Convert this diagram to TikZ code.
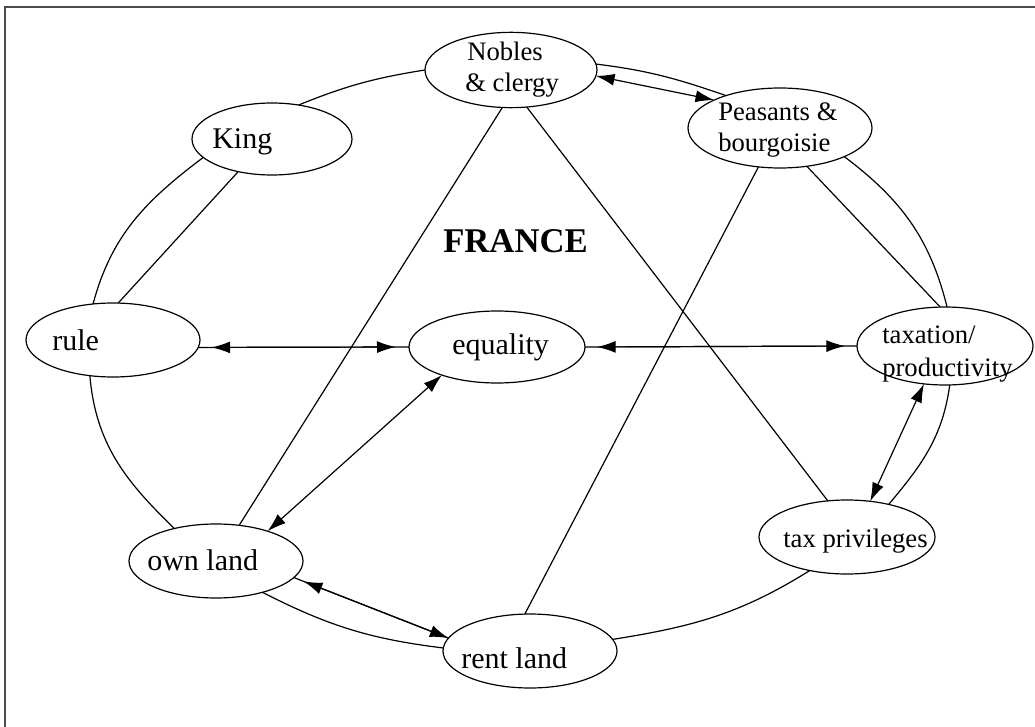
\documentclass[tikz,border=0pt]{standalone}
\usepackage{fontspec}
\setmainfont{Liberation Serif}
\usetikzlibrary{shapes.geometric,arrows.meta}

\tikzset{
  ell/.style={draw, ellipse, inner sep=0pt, outer sep=0pt, line width=0.9pt},
  big/.style={anchor=base west, inner sep=0pt, font=\fontsize{22.5}{27}\selectfont},
  small/.style={anchor=base west, inner sep=0pt, font=\fontsize{20}{24}\selectfont},
  title/.style={anchor=base west, inner sep=0pt, font=\fontsize{26}{30}\selectfont\bfseries},
  link/.style={line width=0.9pt},
  tip/.style={line width=0.9pt, {Latex[length=14pt,width=9pt]}-{Latex[length=14pt,width=9pt]}},
  gaptip/.style={line width=0.9pt, postaction={draw, tip, shorten <=#1, shorten >=#1}},
  frame/.style={line width=2pt, black!70},
}

\begin{document}
\begin{tikzpicture}[x=0.75pt, y=-0.75pt]
  \useasboundingbox (0,0) rectangle (1035,727);

  % frame edges
  \coordinate (fl) at (5,727);
  \coordinate (fc) at (5,7);
  \coordinate (fr) at (1035,7);
  \draw[frame] (fl) -- (fc) -- (fr);

  % ellipses
  \node[ell, minimum width=120pt,   minimum height=54pt]   (king) at (272,139) {};
  \node[ell, minimum width=129pt,   minimum height=56.5pt] (nob)  at (511,70)  {};
  \node[ell, minimum width=138pt,   minimum height=60pt]   (pea)  at (780,128) {};
  \node[ell, minimum width=130.5pt, minimum height=55.5pt] (rule) at (113,340) {};
  \node[ell, minimum width=132pt,   minimum height=54pt]   (eq)   at (497,347) {};
  \node[ell, minimum width=132pt,   minimum height=58.5pt] (tax)  at (945,346) {};
  \node[ell, minimum width=132pt,   minimum height=55.5pt] (priv) at (847,537) {};
  \node[ell, minimum width=130.5pt, minimum height=55.5pt] (own)  at (216,561) {};
  \node[ell, minimum width=130.5pt, minimum height=55.5pt] (rent) at (530,651) {};

  % labels
  \node[big]   (tking)  at (212,149) {King};
  \node[small] (tnob1)  at (467,61)  {Nobles};
  \node[small] (tnob2)  at (465,92)  {\& clergy};
  \node[small] (tpea1)  at (718,121) {Peasants \&};
  \node[small] (tpea2)  at (718,152) {bourgoisie};
  \node[big]   (trule)  at (52,350)  {rule};
  \node[big]   (teq)    at (452,354) {equality};
  \node[small] (ttax1)  at (882,344) {taxation/};
  \node[small] (ttax2)  at (882,376) {productivity};
  \node[small] (tpriv)  at (783,547) {tax privileges};
  \node[big]   (town)   at (147,570) {own land};
  \node[big]   (trent)  at (461,668) {rent land};
  \node[title] (france) at (443,253) {FRANCE};

  % outer ring
  \draw[link] (king.52)  to[out=22,  in=189] (nob.180);
  \draw[link] (nob.4)    to[out=-7,  in=161] (pea.149);
  \draw[link] (pea.336)  to[out=-37, in=104] (tax.87);
  \draw[link] (tax.277)  to[out=-98, in=50]  (priv.38);
  \draw[link] (priv.222) to[out=212, in=9]   (rent.8);
  \draw[link] (rent.178) to[out=173, in=-27] (own.326);
  \draw[link] (own.142)  to[out=136, in=-85] (rule.237);
  \draw[link] (rule.119) to[out=75,  in=217] (king.195);

  % straight ties
  \draw[link] (king.224) -- (rule.82);
  \draw[link] (nob.257)  -- (own.57);
  \draw[link] (nob.293)  -- (priv.118);
  \draw[link] (pea.241)  -- (rent.98);
  \draw[link] (pea.305)  -- (tax.97);

  % two-way links
  \draw[tip] (nob.-4) -- (pea.157);
  \draw[gaptip=10pt] (rule.355) -- (eq.180);
  \draw[gaptip=9pt]  (eq.0) -- (tax.180);
  \draw[tip] (eq.207) -- (own.30);
  \draw[tip] (tax.241) -- (priv.57);
  \draw[link] (own.348) -- (rent.171);
  \draw[tip, shorten <=8pt] (own.348) -- (rent.171);
\end{tikzpicture}
\end{document}
